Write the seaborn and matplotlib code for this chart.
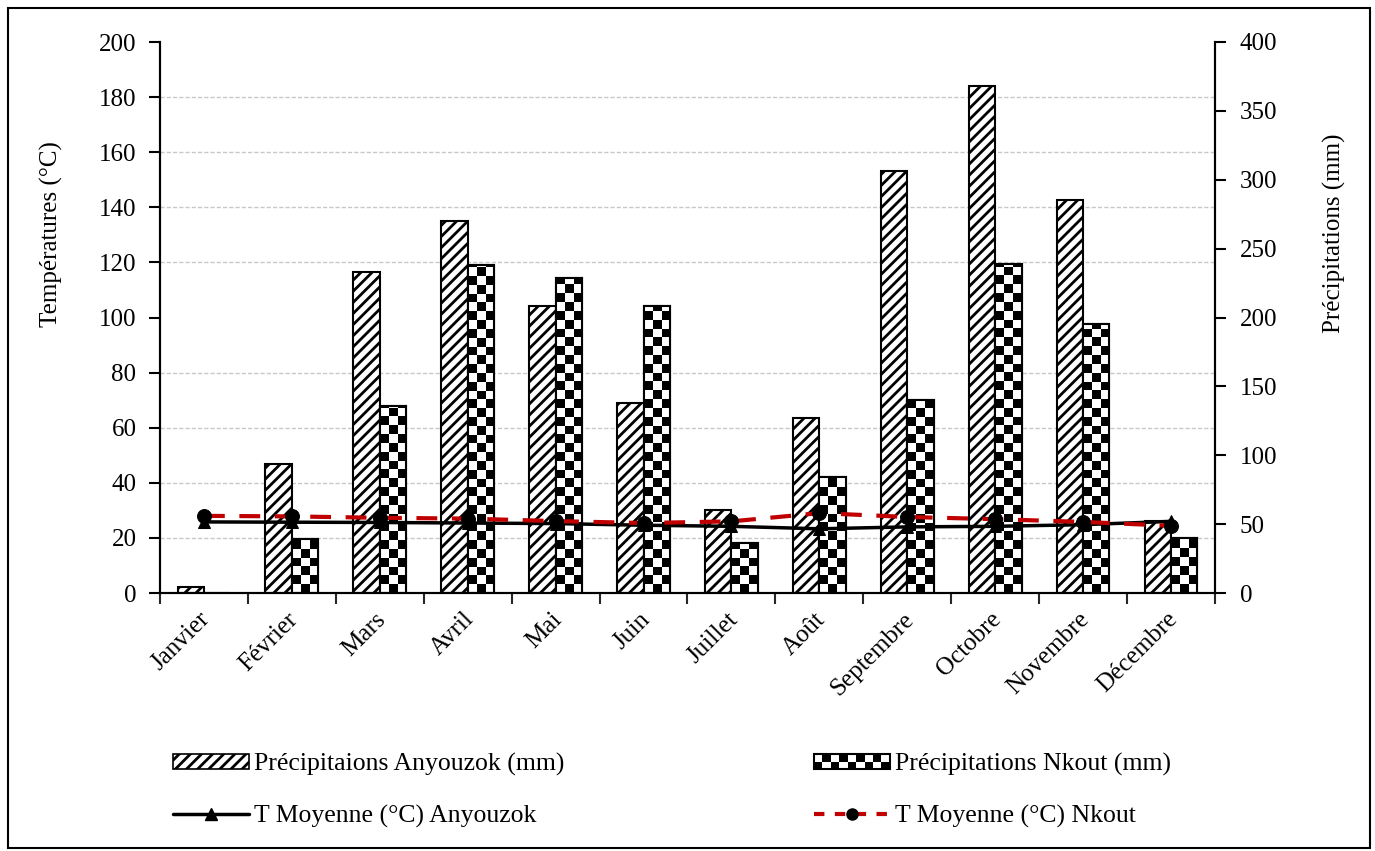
import numpy as np
import pandas as pd
import matplotlib
matplotlib.use("Agg")
import matplotlib.pyplot as plt
import matplotlib.transforms as mtransforms
import seaborn as sns
from matplotlib.patches import Rectangle
from matplotlib.lines import Line2D
from matplotlib.legend_handler import HandlerBase
from matplotlib.ticker import FixedLocator

# Monthly climate data for the two stations
mois = ["Janvier", "Février", "Mars", "Avril", "Mai", "Juin", "Juillet",
        "Août", "Septembre", "Octobre", "Novembre", "Décembre"]
precip_anyouzok = [4, 94, 233, 270, 208, 138, 60, 127, 306, 368, 285, 52]
precip_nkout = [0, 39, 136, 238, 229, 208, 36, 84, 140, 239, 195, 40]
t_anyouzok = [25.8, 25.7, 25.6, 25.4, 25.2, 24.6, 24.2, 23.3, 24.0, 24.2, 24.8, 26.0]
t_nkout = [28.0, 27.8, 27.3, 27.0, 26.1, 25.4, 26.0, 29.0, 27.6, 26.8, 25.8, 24.4]

temp_ticks = list(range(0, 201, 20))
precip_ticks = list(range(0, 401, 50))

lab_pa = "Précipitaions Anyouzok (mm)"
lab_pn = "Précipitations Nkout (mm)"
lab_ta = "T Moyenne (°C) Anyouzok"
lab_tn = "T Moyenne (°C) Nkout"

sns.set_theme(style="white")
plt.rcParams["font.family"] = ["Liberation Serif", "DejaVu Serif"]
plt.rcParams["hatch.linewidth"] = 2.0
plt.rcParams["hatch.color"] = "black"
FS = 18
FS_LEG = 18.5
RED = "#C00000"

W, H = 1375, 851
fig = plt.figure(figsize=(W / 100, H / 100), dpi=100)
fig.patch.set_facecolor("white")
ax = fig.add_axes([160 / W, 1 - 593 / H, 1055 / W, 551 / H])
ax.set_facecolor("white")
ax2 = ax.twinx()

# Precipitation bars (right-hand scale)
df = pd.DataFrame({
    "Mois": mois * 2,
    "Station": ["Anyouzok"] * len(mois) + ["Nkout"] * len(mois),
    "Precip": precip_anyouzok + precip_nkout,
})
sns.barplot(data=df, x="Mois", y="Precip", hue="Station", ax=ax,
            palette=["white", "white"], saturation=1, width=0.6,
            edgecolor="black", linewidth=1.5, legend=False)

ax.set_xlim(-0.5, len(mois) - 0.5)
ax.set_ylim(0, precip_ticks[-1])

for bar in ax.containers[0]:
    bar.set_hatch("///")

# Checkerboard fill for the Nkout bars
fig.canvas.draw()
sq_px = 8.8
y_px_per_unit = (ax.transData.transform((0, 1))[1] - ax.transData.transform((0, 0))[1])
sq_y = sq_px / y_px_per_unit
for bar in ax.containers[1]:
    x0, w, h = bar.get_x(), bar.get_width(), bar.get_height()
    if h <= 0:
        continue
    ncols = 3
    nrows = int(np.ceil(h / sq_y))
    board = np.add.outer(np.arange(nrows), np.arange(ncols)) % 2
    im = ax.imshow(board, extent=(x0, x0 + w, 0, nrows * sq_y), origin="lower",
                   cmap="gray_r", vmin=0, vmax=1, interpolation="nearest",
                   aspect="auto", zorder=bar.get_zorder() + 0.1)
    im.set_clip_path(bar)
    ax.add_patch(Rectangle((x0, 0), w, h, fill=False, edgecolor="black",
                           linewidth=1.5, zorder=bar.get_zorder() + 0.2))

ax.set_xlim(-0.5, len(mois) - 0.5)
ax.set_ylim(0, precip_ticks[-1])

# Temperature lines (left-hand scale)
sns.lineplot(x=mois, y=t_anyouzok, ax=ax2, color="black", marker="^",
             markersize=9, markeredgecolor="black", linewidth=2.5,
             sort=False, legend=False)
sns.lineplot(x=mois, y=t_nkout, ax=ax2, color=RED, marker="o",
             markersize=10, markerfacecolor="black", markeredgecolor="black",
             linewidth=3, sort=False, legend=False)
ax2.lines[1].set_dashes((5, 3.5))
ax2.set_ylim(0, temp_ticks[-1])
ax.set_xlim(-0.5, len(mois) - 0.5)

# Axis sides: temperatures on the left, precipitation on the right
ax.yaxis.tick_right()
ax.yaxis.set_label_position("right")
ax2.yaxis.tick_left()
ax2.yaxis.set_label_position("left")
ax.set_yticks(precip_ticks)
ax.set_yticklabels([str(v) for v in precip_ticks])
ax2.set_yticks(temp_ticks)
ax2.set_yticklabels([str(v) for v in temp_ticks])

ax.tick_params(axis="y", which="major", right=True, left=False, direction="out",
               length=8, width=1.5, pad=10, labelsize=FS, colors="black")
ax2.tick_params(axis="y", which="major", left=True, right=False, direction="out",
                length=8, width=1.5, pad=9, labelsize=FS, colors="black")

# Horizontal gridlines aligned with the temperature ticks
ratio = precip_ticks[-1] / temp_ticks[-1]
ax.yaxis.set_minor_locator(FixedLocator([t * ratio for t in temp_ticks]))
ax.tick_params(axis="y", which="minor", length=0)
ax.grid(which="minor", axis="y", color="#c8c8c8", linestyle=(0, (3, 1.5)), linewidth=1)
ax.grid(which="major", axis="y", visible=False)
ax.set_axisbelow(True)

# Month labels with ticks between categories
ax.set_xticks(range(len(mois)))
ax.set_xticklabels(mois, rotation=45, ha="right", rotation_mode="anchor",
                   fontsize=FS, color="black")
ax.xaxis.set_minor_locator(FixedLocator(np.arange(-0.5, len(mois), 1.0)))
ax.tick_params(axis="x", which="major", bottom=True, length=0, pad=11)
ax.tick_params(axis="x", which="minor", bottom=True, direction="out", length=8, width=1.5)
shift = mtransforms.ScaledTranslation(-5 / 100, 0, fig.dpi_scale_trans)
for lbl in ax.get_xticklabels():
    lbl.set_transform(lbl.get_transform() + shift)
ax.set_xlabel("")

for a in (ax, ax2):
    a.spines["top"].set_visible(False)
    for s in ("left", "right", "bottom"):
        a.spines[s].set_color("black")
        a.spines[s].set_linewidth(1.5)

ax2.set_ylabel("Températures (°C)", fontsize=FS, color="black")
ax.set_ylabel("Précipitations (mm)", fontsize=FS, color="black")
ax2.yaxis.set_label_coords(-0.092, 0.652)
ax.yaxis.set_label_coords(1.1025, 0.652)


class CheckerHandler(HandlerBase):
    def create_artists(self, legend, orig_handle, xdescent, ydescent,
                       width, height, fontsize, trans):
        x0, y0 = -xdescent, -ydescent
        arts = [Rectangle((x0, y0), width, height, facecolor="white",
                          edgecolor="none", transform=trans)]
        ncols, nrows = 9, 2
        cw, ch = width / ncols, height / nrows
        for i in range(nrows):
            for j in range(ncols):
                if (i + j) % 2 == 0:
                    arts.append(Rectangle((x0 + j * cw, y0 + i * ch), cw, ch,
                                          facecolor="black", edgecolor="none",
                                          transform=trans))
        arts.append(Rectangle((x0, y0), width, height, fill=False,
                              edgecolor="black", linewidth=1.5, transform=trans))
        return arts


h_pa = Rectangle((0, 0), 1, 1, facecolor="white", edgecolor="black",
                 hatch="///", linewidth=1.2)
h_pn = Rectangle((0, 0), 1, 1, facecolor="white", edgecolor="black")
h_ta = Line2D([], [], color="black", marker="^", markersize=8, linewidth=2.5)
h_tn = Line2D([], [], color=RED, marker="o", markersize=8, linewidth=3,
              markerfacecolor="black", markeredgecolor="black", dashes=(2.5, 2.5))

leg_kw = dict(frameon=False, fontsize=FS_LEG, handlelength=2.95, handleheight=0.5,
              handletextpad=0.2, labelspacing=1.12, borderpad=0, borderaxespad=0,
              loc="upper left", labelcolor="black")
fig.legend([h_pa, h_ta], [lab_pa, lab_ta], bbox_to_anchor=(173 / W, 1 - 753 / H), **leg_kw)
fig.legend([h_pn, h_tn], [lab_pn, lab_tn], bbox_to_anchor=(814 / W, 1 - 753 / H),
           handler_map={h_pn: CheckerHandler()}, **leg_kw)

# Frame around the whole chart
fig.add_artist(Rectangle((8 / W, 1 - 848 / H), 1362 / W, 840 / H, fill=False,
                         edgecolor="black", linewidth=1.5, transform=fig.transFigure))

fig.savefig("out.png", dpi=100, facecolor="white")
